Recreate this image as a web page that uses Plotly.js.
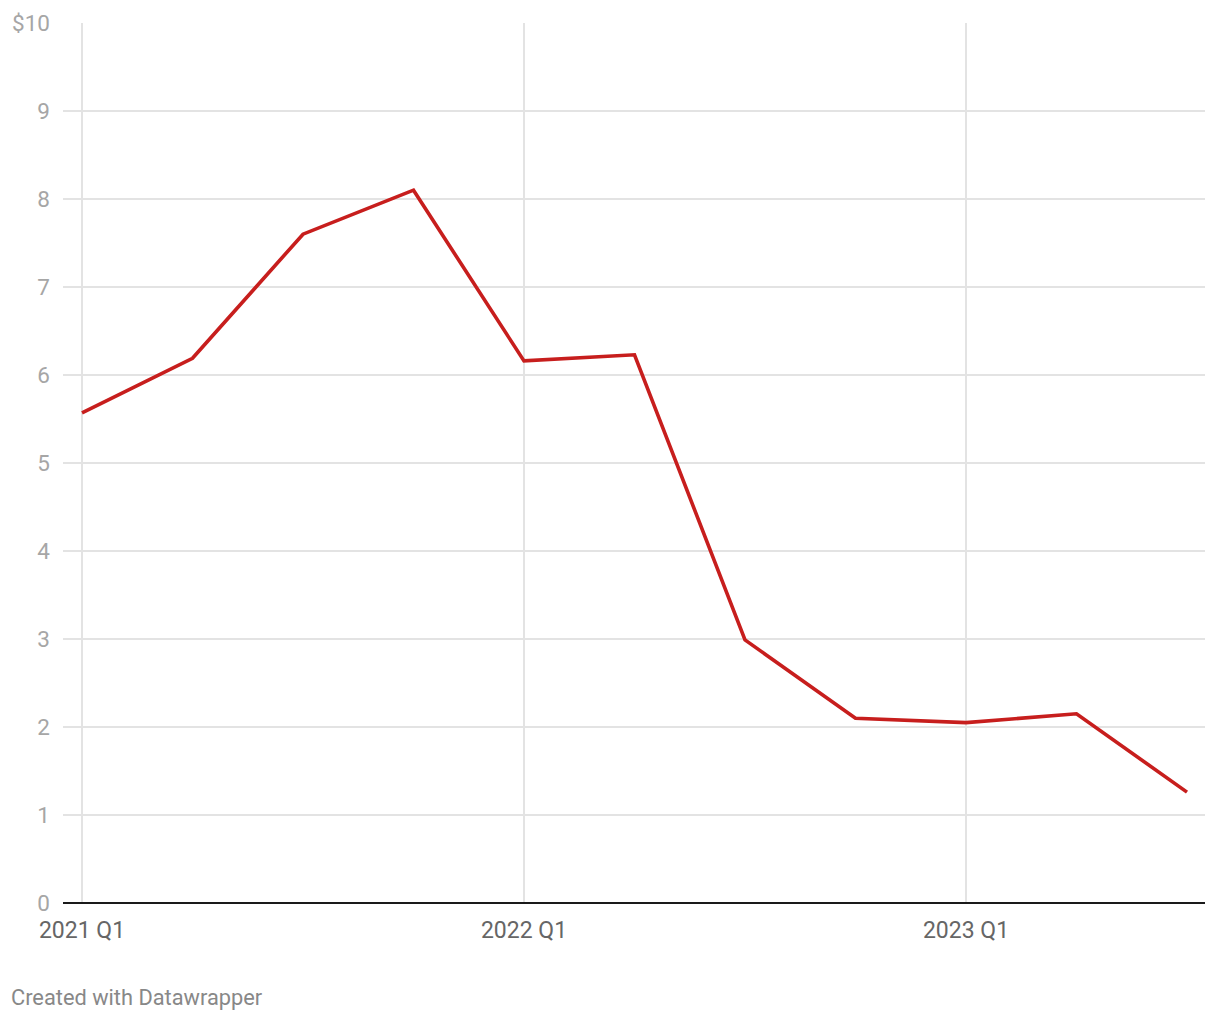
<!DOCTYPE html>
<html>
<head>
<meta charset="utf-8">
<script src="https://cdn.plot.ly/plotly-3.0.1.min.js"></script>
<style>html,body{margin:0;padding:0;background:#fff;}#chart{width:1220px;height:1020px;}</style>
</head>
<body>
<div id="chart"></div>
<script>
const quarters = ["2021 Q1","2021 Q2","2021 Q3","2021 Q4","2022 Q1","2022 Q2","2022 Q3","2022 Q4","2023 Q1","2023 Q2","2023 Q3"];
const values = [5.57, 6.19, 7.60, 8.10, 6.16, 6.23, 2.99, 2.10, 2.05, 2.15, 1.26];
const xTickLabels = ["2021 Q1","2022 Q1","2023 Q1"];
const yTickLabels = ["0","1","2","3","4","5","6","7","8","9","$10"];

const xIdx = quarters.map((q, i) => i);
const xTickVals = xTickLabels.map(l => quarters.indexOf(l));
const yTickVals = yTickLabels.map((l, i) => i);

Plotly.newPlot('chart', [{
  x: xIdx, y: values, type: 'scatter', mode: 'lines',
  line: {color: '#c71e1d', width: 3.6},
  text: quarters, hoverinfo: 'text+y'
}], {
  width: 1220, height: 1020,
  margin: {l: 63, r: 15, t: 23, b: 117},
  paper_bgcolor: '#fff', plot_bgcolor: '#fff',
  showlegend: false,
  font: {family: 'Roboto, sans-serif'},
  xaxis: {
    range: [-0.172, 10.163], tickvals: xTickVals, ticktext: xTickLabels,
    showgrid: true, gridcolor: '#e3e3e3', gridwidth: 1.5,
    zeroline: false, showline: false, ticks: '',
    tickfont: {size: 23, color: '#666666'}, ticklabelstandoff: 11
  },
  yaxis: {
    range: [0, 10], tickvals: yTickVals, ticktext: yTickLabels,
    showgrid: true, gridcolor: '#e3e3e3', gridwidth: 1.5,
    zeroline: true, zerolinecolor: '#1a1a1a', zerolinewidth: 2,
    showline: false, ticks: '',
    tickfont: {size: 22.5, color: '#a6a6a6'}, ticklabelstandoff: 12
  },
  annotations: [{
    text: 'Created with Datawrapper', xref: 'paper', yref: 'paper',
    x: -54/1142, y: -94/880, xanchor: 'left', yanchor: 'middle',
    showarrow: false, font: {size: 21.8, color: '#888888', family: 'Roboto, sans-serif'}
  }]
}, {displayModeBar: false, staticPlot: true});
</script>
</body>
</html>
